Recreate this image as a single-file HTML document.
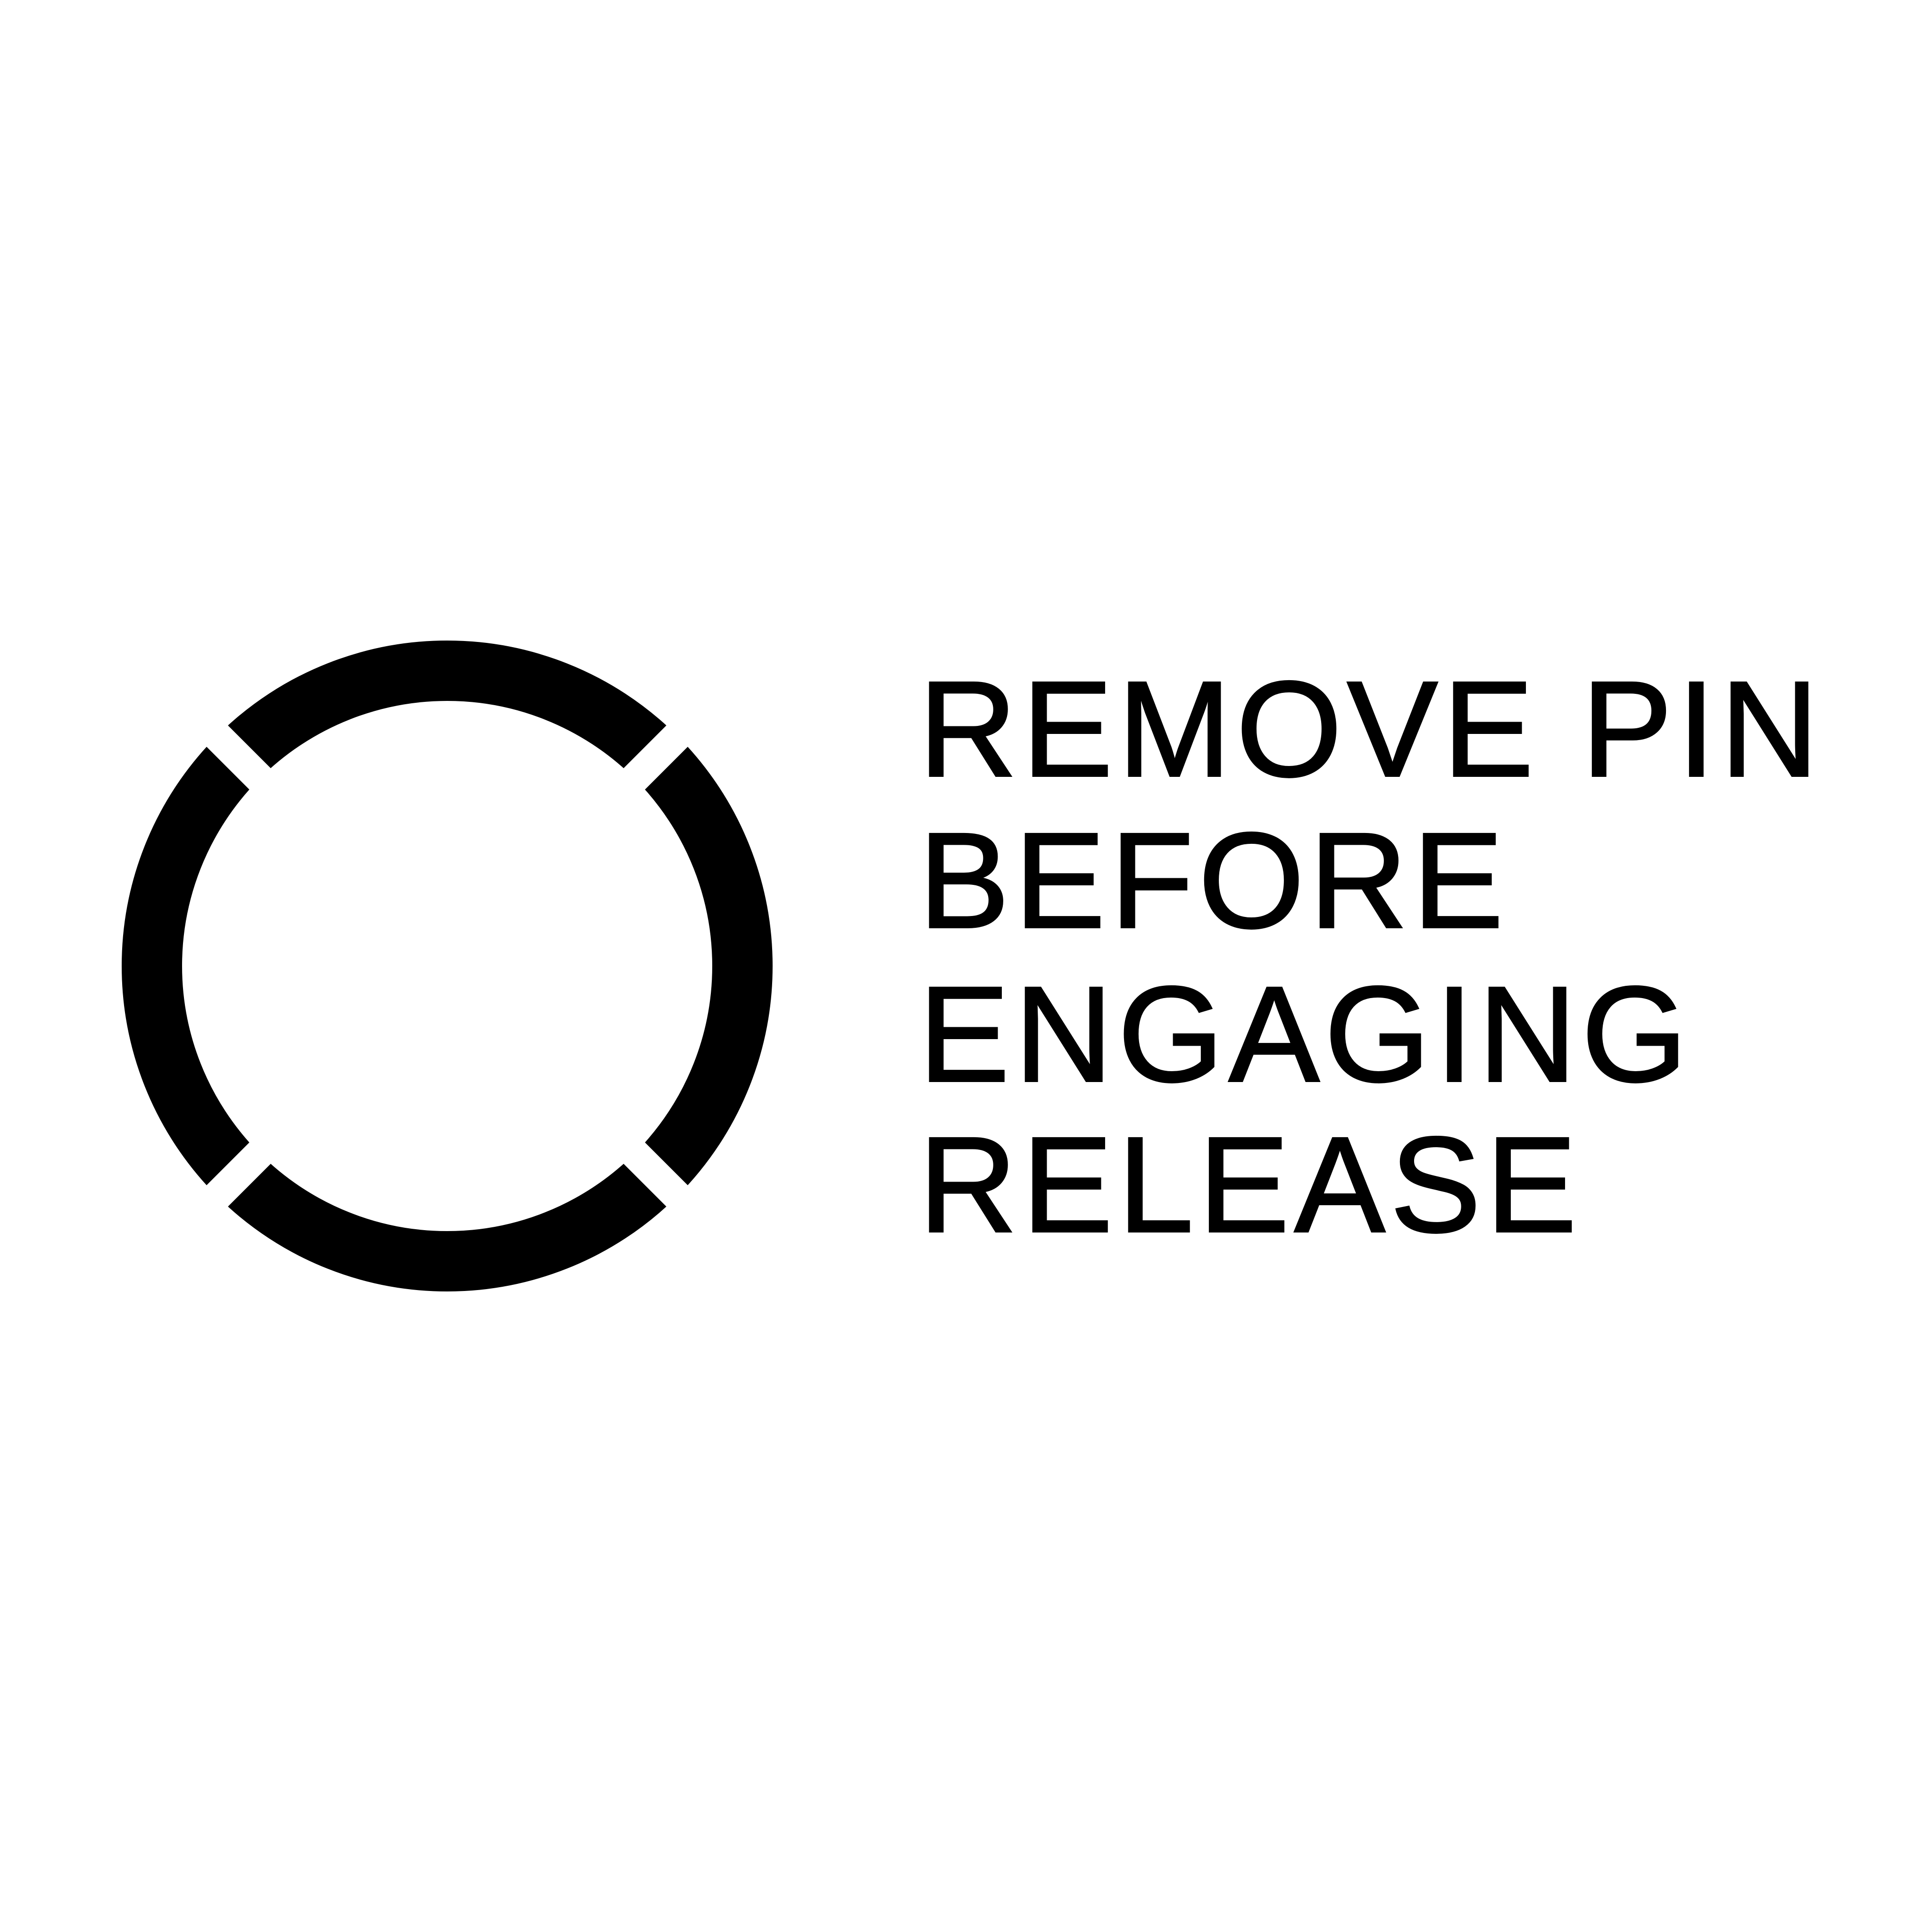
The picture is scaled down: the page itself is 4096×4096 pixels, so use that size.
<!DOCTYPE html>
<html><head><meta charset="utf-8"><style>
html,body{margin:0;padding:0;background:#fff;}
body{width:4096px;height:4096px;position:relative;overflow:hidden;}
svg{position:absolute;left:0;top:0;}
text{font-family:"Liberation Sans",sans-serif;font-size:288px;fill:#000;stroke:#000;stroke-width:4px;letter-spacing:11px;}
</style></head><body>
<svg width="4096" height="4096" viewBox="0 0 4096 4096">
  <g>
    <circle cx="948" cy="2048" r="626" fill="none" stroke="#000" stroke-width="128"/>
    <rect x="148" y="2016" width="1600" height="64" fill="#fff" transform="rotate(45 948 2048)"/>
    <rect x="148" y="2016" width="1600" height="64" fill="#fff" transform="rotate(-45 948 2048)"/>
  </g>
  <g>
    <text x="1948" y="1645">REMOVE PIN</text>
    <text x="1948" y="1966">BEFORE</text>
    <text x="1948" y="2292">ENGAGING</text>
    <text x="1948" y="2611">RELEASE</text>
  </g>
</svg>
</body></html>
